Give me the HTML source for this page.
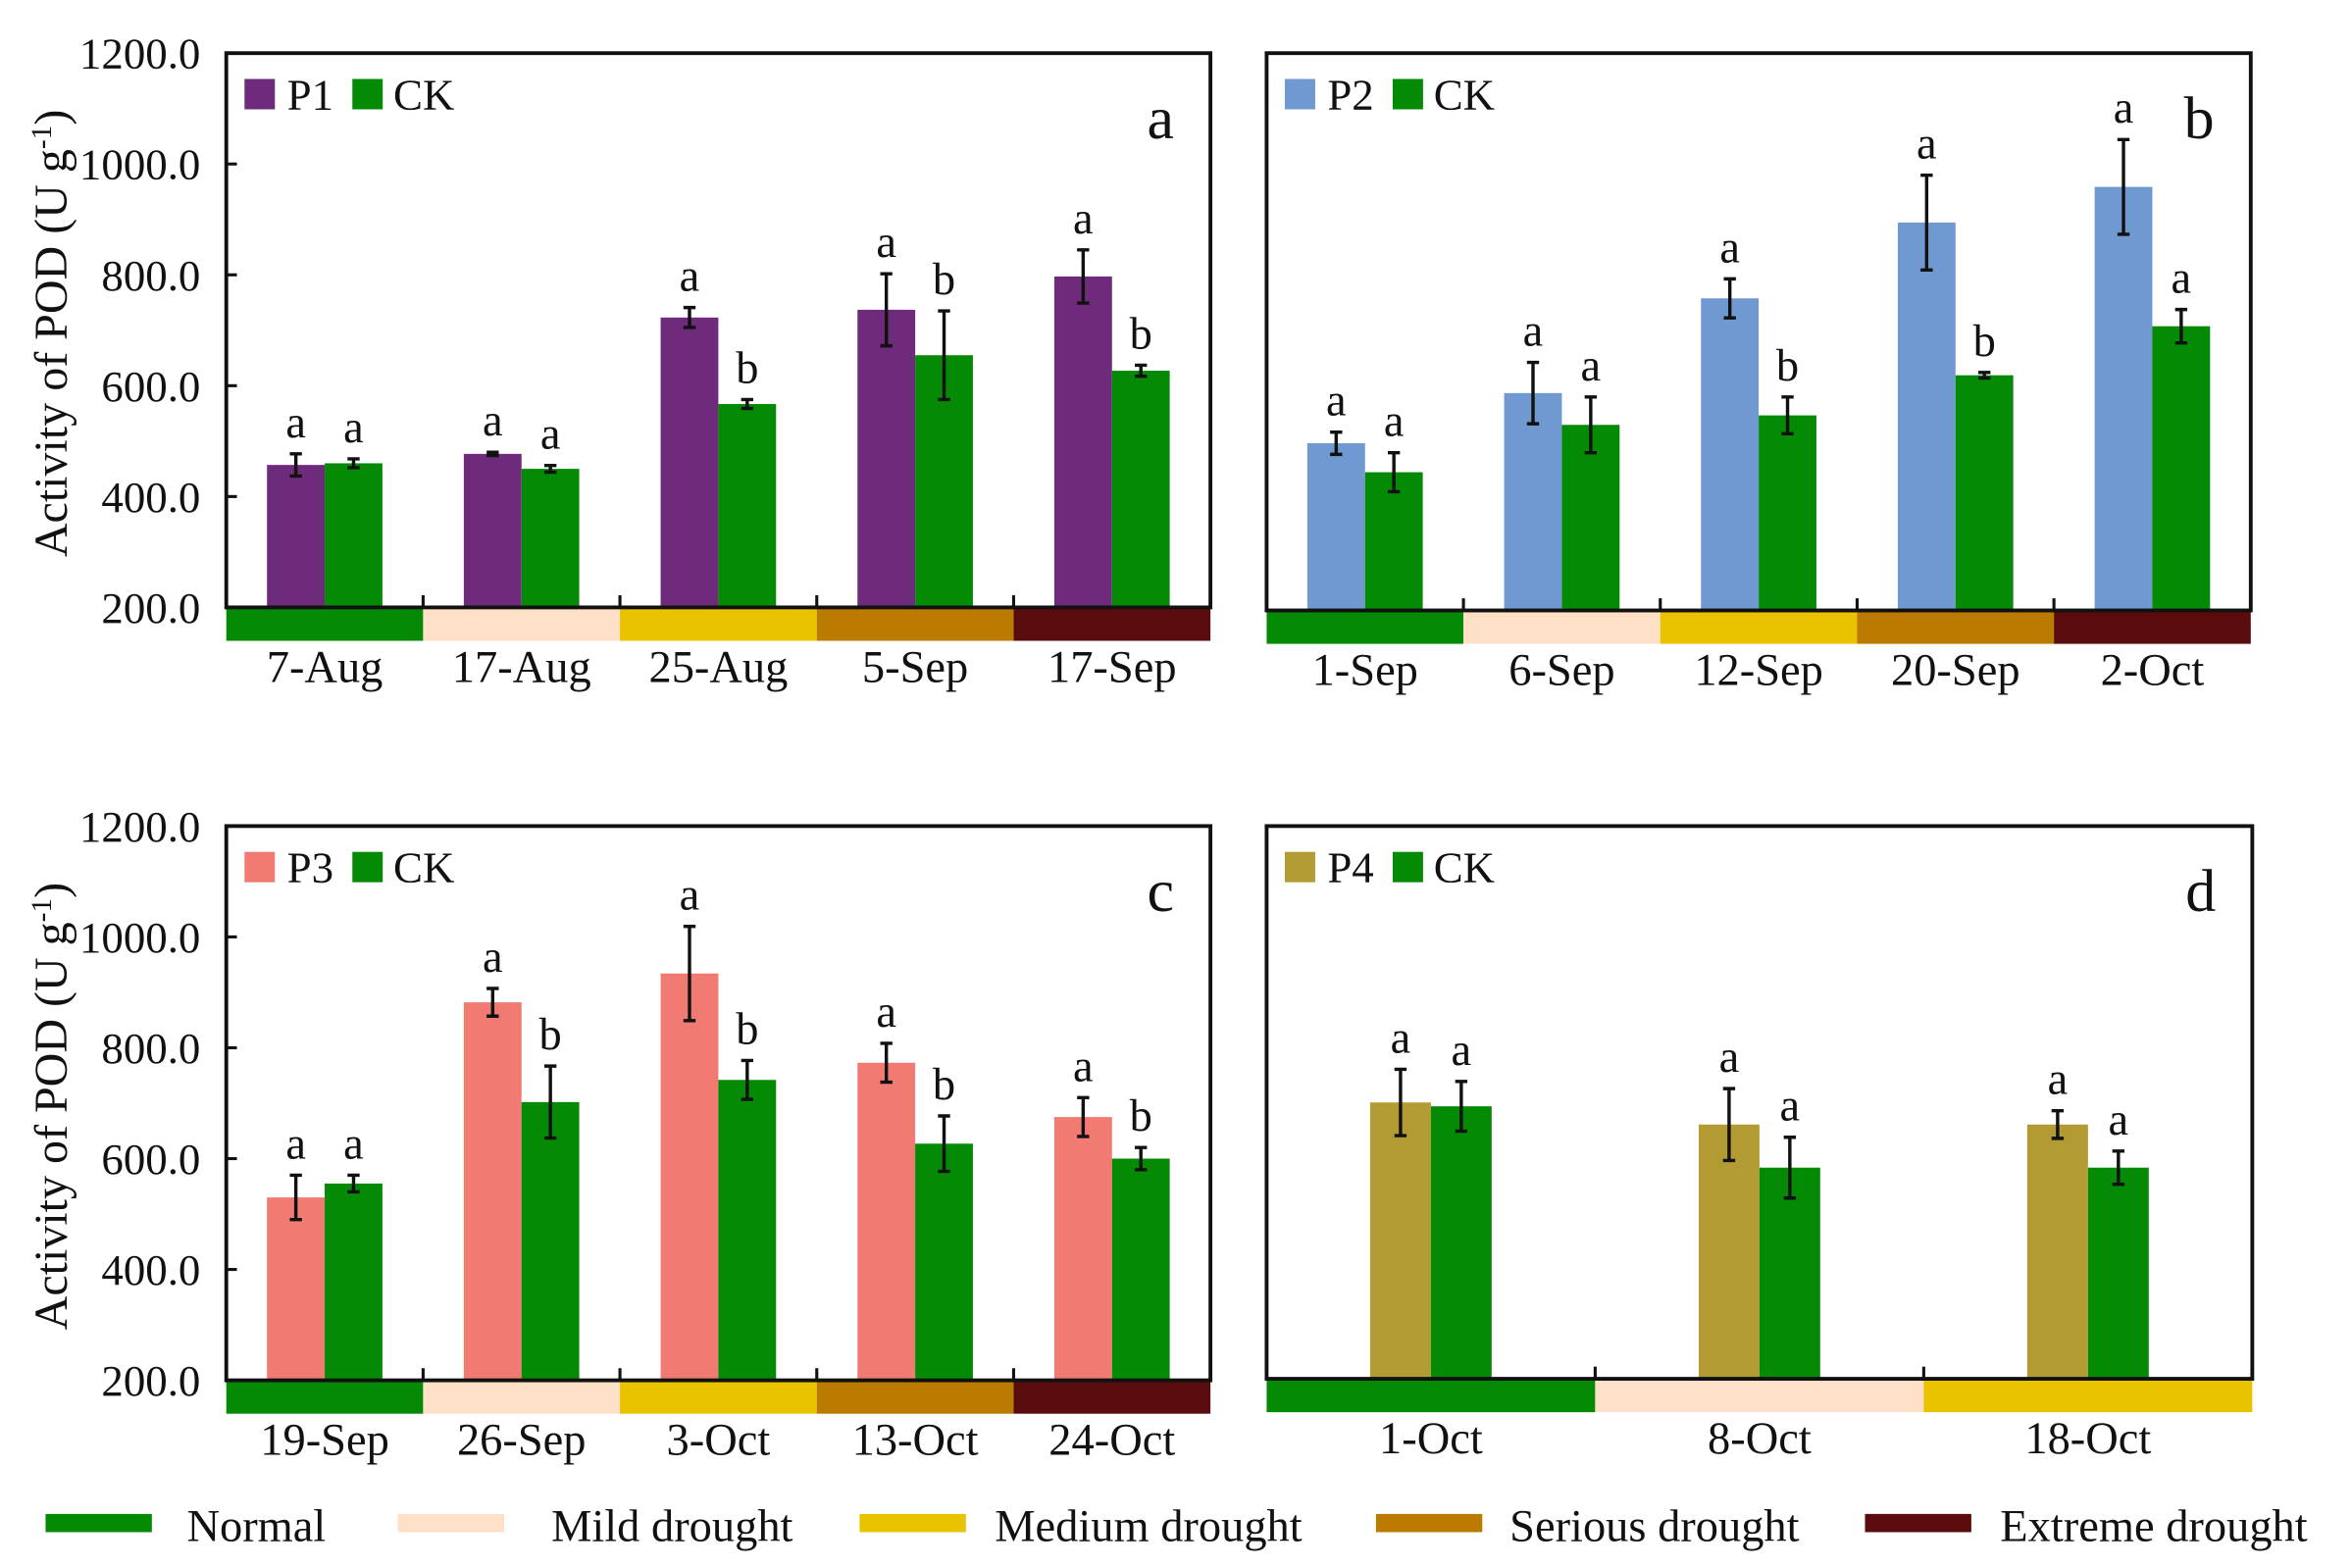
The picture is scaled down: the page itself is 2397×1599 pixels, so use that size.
<!DOCTYPE html>
<html><head><meta charset="utf-8"><style>
html,body{margin:0;padding:0;background:#fff;}
svg{display:block;}
text{font-family:"Liberation Serif",serif;fill:#111;}
</style></head><body>
<svg id="fig" width="2397" height="1599" viewBox="0 0 1548 1032.6" preserveAspectRatio="none" xmlns="http://www.w3.org/2000/svg"></svg>
<script>
// ---- data ----
const catsA = ["7-Aug","17-Aug","25-Aug","5-Sep","17-Sep"];
const p1Vals = [457,477,723,737,797];
const p1Err = [20,3,18,65,48];
const ckAVals = [460,450,567,655,627];
const ckAErr = [8,6,8,80,10];
const lettersA = [["a","a"],["a","a"],["a","b"],["a","b"],["a","b"]];

const catsB = ["1-Sep","6-Sep","12-Sep","20-Sep","2-Oct"];
const p2Vals = [500,590,760,896,960];
const p2Err = [20,55,35,85,85];
const ckBVals = [448,533,550,622,710];
const ckBErr = [35,50,33,5,30];
const lettersB = [["a","a"],["a","a"],["a","b"],["a","b"],["a","a"]];

const catsC = ["19-Sep","26-Sep","3-Oct","13-Oct","24-Oct"];
const p3Vals = [530,882,934,773,675];
const p3Err = [40,25,85,35,35];
const ckCVals = [555,702,742,627,600];
const ckCErr = [15,65,35,50,20];
const lettersC = [["a","a"],["a","b"],["a","b"],["a","b"],["a","b"]];

const catsD = ["1-Oct","8-Oct","18-Oct"];
const p4Vals = [700,660,660];
const p4Err = [60,65,25];
const ckDVals = [693,582,582];
const ckDErr = [45,55,30];
const lettersD = [["a","a"],["a","a"],["a","a"]];

const yTicks = [200,400,600,800,1000,1200];
const yTickLabels = ["200.0","400.0","600.0","800.0","1000.0","1200.0"];
const droughtNames = ["Normal","Mild drought","Medium drought","Serious drought","Extreme drought"];
const droughtColors = ["#058a05","#fde0c5","#e9c300","#ba7b00","#5a0c0c"];

const NS="http://www.w3.org/2000/svg";
const svg=document.getElementById('fig');
function mk(tag,attrs,parent){const e=document.createElementNS(NS,tag);for(const k in attrs)e.setAttribute(k,attrs[k]);(parent||svg).appendChild(e);return e;}

function panel(cfg){
  const g=mk('g',{});
  
  
  const x0=cfg.x0,x1=cfg.x1,top=cfg.top,base=cfg.base;
  const yS=v=>base-(v-200)/1000*(base-top);
  const n=cfg.cats.length, gw=(x1-x0)/n, bw=cfg.bw;
  for(let i=0;i<n;i++){
    const cx=x0+gw*(i+0.5);
    const series=[[cfg.pv,cfg.pe,cfg.pc,cx-bw,'treatment'],[cfg.cv,cfg.ce,'#058a05',cx,'ck']];
    series.forEach((s,j)=>{
      const v=s[0][i],e=s[1][i],bx=s[3];
      const r=mk('rect',{x:bx,y:yS(v),width:bw,height:base-yS(v),fill:s[2]},g);
      
      
      const ex=bx+bw/2;
      const eb=mk('path',{d:`M${ex},${yS(v+e)}V${yS(v-e)}M${ex-4},${yS(v+e)}H${ex+4}M${ex-4},${yS(v-e)}H${ex+4}`,stroke:'#111','stroke-width':2.2,fill:'none'},g);
      
      
      const t=mk('text',{x:ex,y:yS(v+e)-11,'text-anchor':'middle','font-size':30},g);
      
      
      t.textContent=cfg.letters[i][j];
    });
    const b=mk('rect',{x:x0+gw*i,y:base,width:gw,height:22,fill:droughtColors[i]},g);
    
    
    const lt=mk('text',{x:cx,y:base+49,'text-anchor':'middle','font-size':30},g);
    
    
    lt.textContent=cfg.cats[i];
    if(i>0){mk('line',{x1:x0+gw*i,x2:x0+gw*i,y1:base,y2:base-8,stroke:'#111','stroke-width':2},g);}
  }
  const fr=mk('rect',{x:x0,y:top,width:x1-x0,height:base-top,fill:'none',stroke:'#111','stroke-width':2.5},g);
  
  
  if(cfg.yaxis){
    yTicks.forEach((t,k)=>{
      mk('line',{x1:x0,x2:x0+7,y1:yS(t),y2:yS(t),stroke:'#111','stroke-width':2},g);
      const tl=mk('text',{x:x0-17,y:yS(t)+10,'text-anchor':'end','font-size':29},g);
      
      
      tl.textContent=yTickLabels[k];
    });
    const yt=mk('text',{x:0,y:0,'text-anchor':'middle','font-size':31,transform:`translate(44,${(top+base)/2+2}) rotate(-90)`},g);
    
    
    yt.innerHTML='Activity of  POD (U g<tspan baseline-shift="super" font-size="19">-1</tspan>)';
  }
  const lg=mk('g',{},g);
  
  
  const ly=top+17;
  mk('rect',{x:x0+12,y:ly,width:20,height:20,fill:cfg.pc},lg);
  const t1=mk('text',{x:x0+40,y:ly+20,'font-size':29},lg);t1.textContent=cfg.pname;
  mk('rect',{x:x0+83,y:ly,width:20,height:20,fill:'#058a05'},lg);
  const t2=mk('text',{x:x0+110,y:ly+20,'font-size':29},lg);t2.textContent='CK';
  const pl=mk('text',{x:x1-24,y:top+56,'text-anchor':'end','font-size':40},g);
  
  
  pl.textContent=cfg.id;
}

panel({id:'a',x0:149,x1:797,top:35,base:400,bw:38,cats:catsA,pv:p1Vals,pe:p1Err,cv:ckAVals,ce:ckAErr,letters:lettersA,pc:'#6e2a7b',pname:'P1',yaxis:true});
panel({id:'b',x0:834,x1:1482,top:35,base:402,bw:38,cats:catsB,pv:p2Vals,pe:p2Err,cv:ckBVals,ce:ckBErr,letters:lettersB,pc:'#7099d2',pname:'P2',yaxis:false});
panel({id:'c',x0:149,x1:797,top:544,base:909,bw:38,cats:catsC,pv:p3Vals,pe:p3Err,cv:ckCVals,ce:ckCErr,letters:lettersC,pc:'#f17a72',pname:'P3',yaxis:true});
panel({id:'d',x0:834,x1:1483,top:544,base:908,bw:40,cats:catsD,pv:p4Vals,pe:p4Err,cv:ckDVals,ce:ckDErr,letters:lettersD,pc:'#b39b33',pname:'P4',yaxis:false});

const legX=[30,262,566,906,1228];
const legT=[123,363,655,994,1317];
const bl=mk('g',{});


droughtNames.forEach((nm,i)=>{
  const e=mk('g',{},bl);
  
  
  mk('rect',{x:legX[i],y:997,width:70,height:12,fill:droughtColors[i]},e);
  const t=mk('text',{x:legT[i],y:1015,'font-size':30},e);
  t.textContent=nm;
});
</script>
</body></html>
